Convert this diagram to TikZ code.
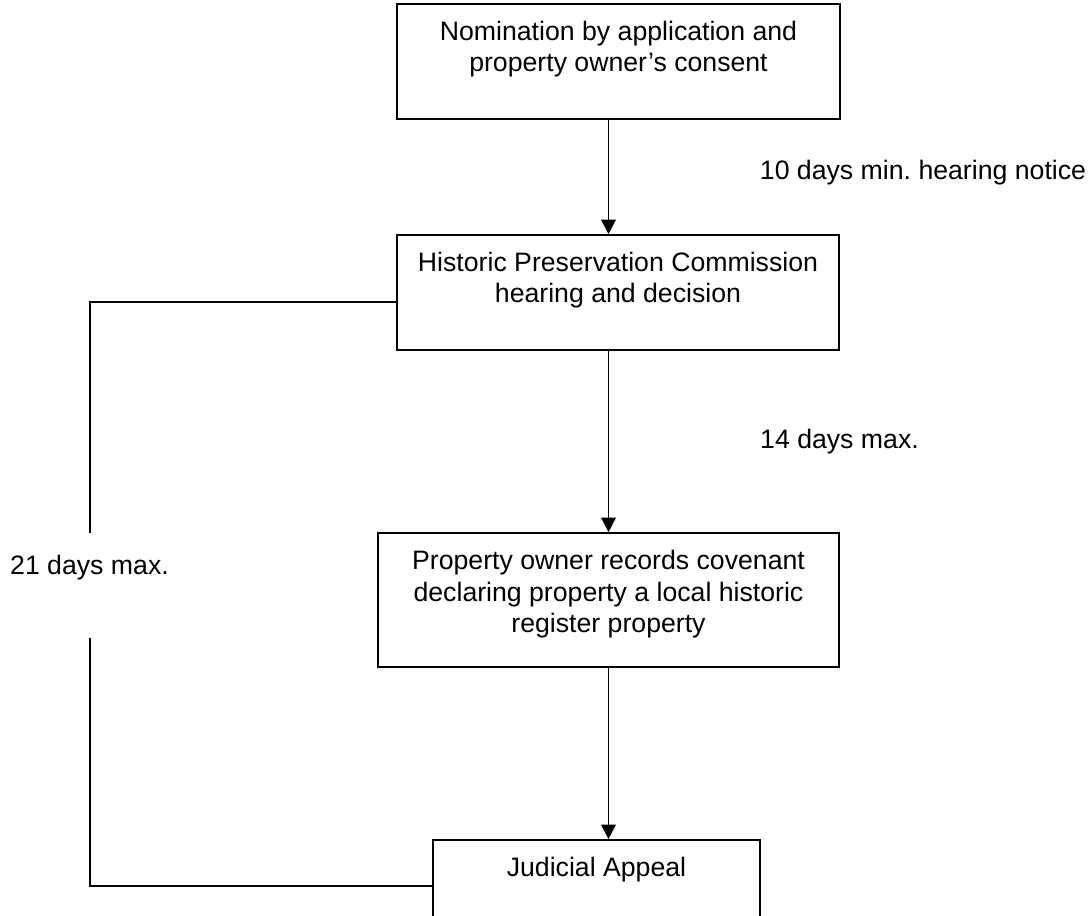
\documentclass[tikz,border=0pt]{standalone}
\usepackage{fontspec}
\setmainfont{Liberation Sans}
\frenchspacing
\usetikzlibrary{positioning,arrows.meta}

\begin{document}
\begin{tikzpicture}[x=0.75pt, y=-0.75pt, line width=1.25pt,
                    phase/.style={rectangle, draw, inner sep=0pt},
                    phasetext/.style={align=center, inner sep=0pt,
                                      font=\fontsize{20}{23.5}\selectfont},
                    timing/.style={inner sep=0pt, font=\fontsize{20}{23.5}\selectfont},
                    flow/.style={-{Triangle[length=11pt, width=11pt]}}
                    ]

\useasboundingbox (0,0) rectangle (1092,915);

% boxes
\node[phase, minimum width=332.25pt, minimum height=86.25pt] (nom) at (618.5,61.5) {};
\node[phasetext, below=13pt of nom.north] (nomtext)
  {Nomination by application and\\property owner’s consent};

\node[phase, minimum width=331.5pt, minimum height=86.25pt] (hpc) at (618,292.5) {};
\node[phasetext, below=13pt of hpc.north] (hpctext)
  {Historic Preservation Commission\\hearing and decision};

\node[phase, minimum width=345.75pt, minimum height=100.5pt] (cov) at (608.5,600) {};
\node[phasetext, below=13pt of cov.north] (covtext)
  {Property owner records covenant\\declaring property a local historic\\register property};

\node[phase, minimum width=245.25pt, minimum height=86.25pt] (jud) at (596.5,897.5) {};
\node[phasetext, below=13pt of jud.north] (judtext) {Judicial Appeal};

% time limits
\node[timing] (notice) at (923,173) {10 days min. hearing notice};
\node[timing] (decide) at (839.5,442) {14 days max.};
\node[timing] (appeal) at (89.5,568) {21 days max.};

% arrows
\draw[flow] (nom.south -| cov.north) -- (hpc.north -| cov.north);
\draw[flow] (hpc.south -| cov.north) -- (cov.north);
\draw[flow] (cov.south) -- (cov.south |- jud.north);

% appeal line
\coordinate (bendtop) at (90,302);
\coordinate (gaptop) at (90,533);
\coordinate (gapbot) at (90,638);
\coordinate (bendbot) at (90,886);
\draw (hpc.west |- bendtop) -- (bendtop) -- (gaptop);
\draw (gapbot) -- (bendbot) -- (jud.west |- bendbot);
\end{tikzpicture}
\end{document}
